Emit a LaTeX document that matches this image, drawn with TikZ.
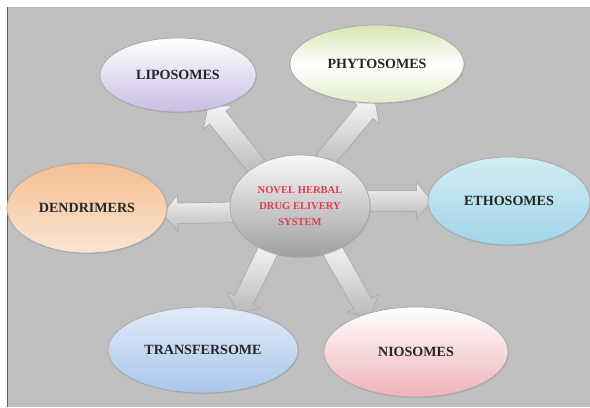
\documentclass[tikz,border=0pt]{standalone}
\usepackage{fontspec}
\setmainfont{Liberation Serif}
\usetikzlibrary{shapes.geometric,shapes.arrows,calc,backgrounds,shadows}

\definecolor{bggray}{RGB}{191,191,191}
\definecolor{lipoC}{RGB}{200,190,228}
\definecolor{phytoC}{RGB}{214,230,178}
\definecolor{dendriC}{RGB}{244,190,145}
\definecolor{ethoC}{RGB}{160,212,232}
\definecolor{transC}{RGB}{170,198,236}
\definecolor{nioC}{RGB}{238,178,184}
\definecolor{hubred}{RGB}{222,60,85}

\begin{document}
\begin{tikzpicture}[x=0.025cm,y=-0.025cm,
  oval/.style={ellipse, draw=gray!70, line width=0.5pt, inner sep=0pt,
    font=\bfseries\fontsize{10}{12}\selectfont, text=black!85,
    drop shadow={opacity=0.25, shadow xshift=0.6pt, shadow yshift=-0.8pt}},
  fatarrow/.style={single arrow, draw=gray!70, top color=gray!8, bottom color=gray!55,
    inner xsep=0pt, inner ysep=0.25cm, single arrow head extend=0.2cm,
    single arrow tip angle=100}]
  \useasboundingbox (0,0) rectangle (590,407);

  % the six systems round the centre
  \node[oval, minimum width=3.9cm, minimum height=1.85cm, top color=white, bottom color=lipoC] (lipo) at (178,75) {LIPOSOMES};
  \node[oval, minimum width=4.35cm, minimum height=1.95cm, top color=phytoC, bottom color=phytoC!70!white, middle color=white] (phyto) at (377,64) {PHYTOSOMES};
  \node[oval, minimum width=4.0cm, minimum height=2.25cm, top color=dendriC, bottom color=dendriC!40!white] (dendri) at (87,208) {DENDRIMERS};
  \node[oval, minimum width=4.05cm, minimum height=2.2cm, top color=ethoC!45!white, bottom color=ethoC] (etho) at (509,201) {ETHOSOMES};
  \node[oval, minimum width=4.75cm, minimum height=2.15cm, top color=transC!35!white, bottom color=transC] (trans) at (203,350) {TRANSFERSOME};
  \node[oval, minimum width=4.6cm, minimum height=2.25cm, top color=white, bottom color=nioC] (nio) at (416,352) {NIOSOMES};

  % centre
  \node[oval, minimum width=3.5cm, minimum height=2.55cm, top color=gray!5, bottom color=gray!75,
    text=hubred, align=center, font=\bfseries\fontsize{7.5}{11.3}\selectfont] (hub) at (300,206) {NOVEL HERBAL\\DRUG ELIVERY\\SYSTEM};

  \begin{scope}[on background layer]
    \fill[white] (0,0) rectangle (590,407);
    \fill[bggray] (8,7) rectangle (590,407);
    \draw[gray!75!black, line width=1pt] (7.5,7) -- (7.5,407);
    \foreach \a/\b/\c in {139/lipo/314, 63/phyto/263, 5/etho/180, 186/dendri/356, 233/trans/48, 307/nio/141}
      \path let \p1=($(hub.center)!0.85!(hub.\a)$), \p2=(\b.\c), \n1={veclen(\x2-\x1,\y2-\y1)} in
        (\p1) -- (\p2) node[fatarrow, midway, sloped, allow upside down, minimum height=\n1] {};
  \end{scope}
\end{tikzpicture}
\end{document}
